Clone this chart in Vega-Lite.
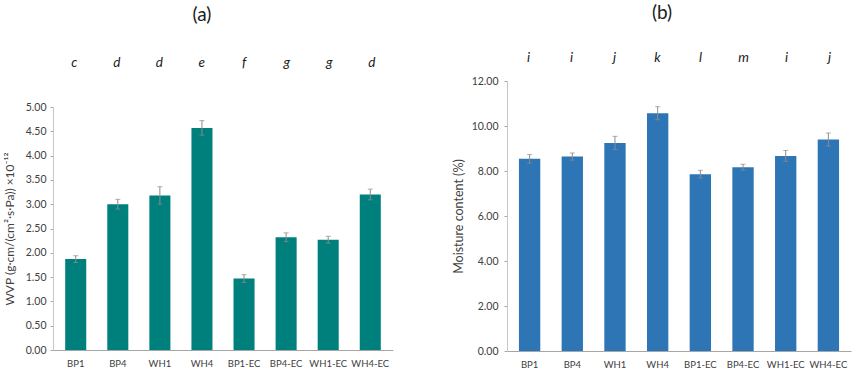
{
  "$schema": "https://vega.github.io/schema/vega-lite/v6.json",
  "padding": {"left": 3, "top": 4, "right": 5, "bottom": 2},
  "background": "white",
  "config": {
    "font": "Lato",
    "view": {"stroke": null},
    "axis": {"grid": false, "labelFont": "Lato", "titleFont": "Lato", "labelColor": "#404040", "titleColor": "#404040", "titleFontWeight": "normal", "domainColor": "#A6A6A6", "tickColor": "#A6A6A6", "labelOverlap": false},
    "title": {"font": "Lato", "fontWeight": "normal", "fontSize": 19, "color": "#202020"}
  },
  "data": {
    "values": [
      {"sample": "BP1", "wvp": 1.87, "wvp_err": 0.07, "mc": 8.54, "mc_err": 0.19, "letter_a": "c", "letter_b": "i"},
      {"sample": "BP4", "wvp": 3.0, "wvp_err": 0.1, "mc": 8.64, "mc_err": 0.16, "letter_a": "d", "letter_b": "i"},
      {"sample": "WH1", "wvp": 3.18, "wvp_err": 0.18, "mc": 9.25, "mc_err": 0.29, "letter_a": "d", "letter_b": "j"},
      {"sample": "WH4", "wvp": 4.57, "wvp_err": 0.15, "mc": 10.57, "mc_err": 0.29, "letter_a": "e", "letter_b": "k"},
      {"sample": "BP1-EC", "wvp": 1.47, "wvp_err": 0.08, "mc": 7.86, "mc_err": 0.17, "letter_a": "f", "letter_b": "l"},
      {"sample": "BP4-EC", "wvp": 2.32, "wvp_err": 0.09, "mc": 8.17, "mc_err": 0.13, "letter_a": "g", "letter_b": "m"},
      {"sample": "WH1-EC", "wvp": 2.27, "wvp_err": 0.07, "mc": 8.67, "mc_err": 0.24, "letter_a": "g", "letter_b": "i"},
      {"sample": "WH4-EC", "wvp": 3.2, "wvp_err": 0.11, "mc": 9.4, "mc_err": 0.29, "letter_a": "d", "letter_b": "j"}
    ]
  },
  "hconcat": [
    {
      "spacing": 24,
      "vconcat": [
        {
          "width": 340,
          "height": 30,
          "title": {"text": "(a)", "offset": 23, "dx": -21},
          "mark": {"type": "text", "fontStyle": "italic", "fontSize": 13.5, "color": "#202020"},
          "encoding": {
            "x": {"field": "sample", "type": "nominal", "sort": null, "axis": null, "scale": {"paddingInner": 0.5, "paddingOuter": 0.29}},
            "text": {"field": "letter_a"}
          }
        },
        {
          "width": 340,
          "height": 243,
          "encoding": {
            "x": {"field": "sample", "type": "nominal", "sort": null, "scale": {"paddingInner": 0.5, "paddingOuter": 0.29},
              "axis": {"title": null, "labelAngle": 0, "labelFontSize": 9.5, "ticks": false, "labelPadding": 8, "domainColor": "#A6A6A6"}},
            "y": {"field": "wvp", "type": "quantitative", "scale": {"domain": [0, 5]},
              "axis": {"title": "WVP (g·cm/(cm²·s·Pa)) ×10⁻¹²", "titleFontSize": 12, "values": [0, 0.5, 1, 1.5, 2, 2.5, 3, 3.5, 4, 4.5, 5], "format": ".2f", "labelOverlap": false, "labelFontSize": 10.5, "tickSize": 3, "labelPadding": 4, "domainColor": "#C8C8C8", "titlePadding": 9}}
          },
          "layer": [
            {"mark": {"type": "bar", "color": "#00807C"}},
            {
              "mark": {"type": "errorbar", "ticks": {"size": 5, "color": "#8C8C8C"}, "rule": {"color": "#8C8C8C"}, "thickness": 1},
              "encoding": {"yError": {"field": "wvp_err"}}
            }
          ]
        }
      ]
    },
    {
      "spacing": 8,
      "vconcat": [
        {
          "width": 344,
          "height": 20,
          "title": {"text": "(b)", "offset": 25, "dx": -17},
          "mark": {"type": "text", "fontStyle": "italic", "fontSize": 13.5, "color": "#202020"},
          "encoding": {
            "x": {"field": "sample", "type": "nominal", "sort": null, "axis": null, "scale": {"paddingInner": 0.5, "paddingOuter": 0.28}},
            "text": {"field": "letter_b"}
          }
        },
        {
          "width": 344,
          "height": 270,
          "encoding": {
            "x": {"field": "sample", "type": "nominal", "sort": null, "scale": {"paddingInner": 0.5, "paddingOuter": 0.28},
              "axis": {"title": null, "labelAngle": 0, "labelFontSize": 9.5, "ticks": false, "labelPadding": 8, "domainColor": "#A6A6A6"}},
            "y": {"field": "mc", "type": "quantitative", "scale": {"domain": [0, 12]},
              "axis": {"title": "Moisture content (%)", "titleFontSize": 12.5, "values": [0, 2, 4, 6, 8, 10, 12], "format": ".2f", "labelOverlap": false, "labelFontSize": 10.5, "tickSize": 3, "labelPadding": 6, "domainColor": "#C8C8C8", "titlePadding": 6}}
          },
          "layer": [
            {"mark": {"type": "bar", "color": "#2E75B6"}},
            {
              "mark": {"type": "errorbar", "ticks": {"size": 5, "color": "#8C8C8C"}, "rule": {"color": "#8C8C8C"}, "thickness": 1},
              "encoding": {"yError": {"field": "mc_err"}}
            }
          ]
        }
      ]
    }
  ],
  "spacing": 59
}
